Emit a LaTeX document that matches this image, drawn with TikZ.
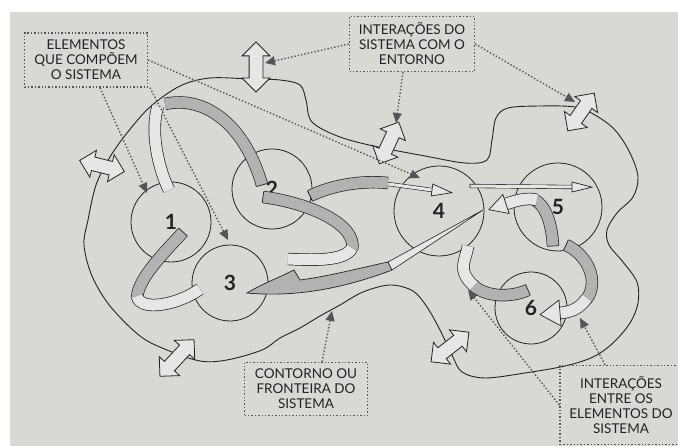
\documentclass[tikz,border=0pt]{standalone}
\usepackage{fontspec}
\setmainfont{Lato}
\usetikzlibrary{shapes.arrows,decorations.markings,arrows.meta}
\definecolor{paper}{RGB}{216,216,213}
\definecolor{ribdark}{RGB}{178,178,177}
\definecolor{riblight}{RGB}{230,230,228}
\definecolor{ink}{RGB}{35,35,35}
\definecolor{lead}{RGB}{85,85,85}

\begin{document}
\begin{tikzpicture}[x=1pt, y=-1pt,
    elem/.style={draw=ink, line width=0.8pt, circle, minimum size=#1, inner sep=0pt,
      font=\fontsize{21}{21}\selectfont\bfseries, text=ink},
    note/.style={draw=lead, dotted, line width=1.4pt, align=center, text=ink,
      font=\fontsize{13.5}{15}\selectfont, inner sep=0pt},
    leader/.style={lead, dotted, line width=1.4pt, -{Triangle[length=10pt, width=9pt]}},
    dblarrow/.style={double arrow, draw=ink, fill=riblight, line width=0.8pt,
      minimum height=#1, double arrow head extend=7pt, inner xsep=0pt, inner ysep=6.5pt},
    ribbon/.style={draw=ink, line width=0.7pt, double=#1, double distance=11pt},
    flat/.style={draw=ink, line width=0.6pt, double=riblight, double distance=3pt},
    rhead/.style args={#1/#2/#3}{postaction={decorate, decoration={markings,
      mark=at position 1 with {\filldraw[fill=#1, draw=ink, line width=0.7pt, solid]
        (0,-#3) -- (#2,0) -- (0,#3) -- cycle;}}}},
    ribend/.style={postaction={decorate, decoration={markings,
      mark=at position 0 with {\draw[ink, line width=0.7pt] (0,-#1) -- (0,#1);}}}}]

  \useasboundingbox (0,0) rectangle (678,446);
  \fill[white] (0,0) rectangle (678,446);
  \fill[paper] (10,12) rectangle (678,446);

  \draw[ink, line width=0.9pt] plot[smooth cycle, tension=0.55] coordinates {
    (88,220) (96,185) (110,157) (127,133) (150,107) (180,86) (210,78) (250,79)
    (280,80) (300,85) (306,100) (312,122) (340,137) (378,147) (425,156) (465,163)
    (487,160) (492,140) (496,118) (508,108) (540,106) (575,107) (595,115) (615,130)
    (630,153) (638,177) (633,197) (617,213) (607,230) (609,245) (623,262) (637,282)
    (638,303) (630,323) (613,343) (593,357) (565,366) (525,373) (485,378) (462,372)
    (452,355) (440,330) (427,307) (413,291) (390,285) (363,292) (340,305) (320,316)
    (300,328) (280,338) (262,350) (227,360) (200,361) (167,350) (140,336) (110,306)
    (92,276) (84,245)};

  \node[elem=80pt] (c1) at (171,222) {1};
  \node[elem=80pt] (c2) at (272,189) {2};
  \node[elem=76pt] (c3) at (230,283) {3};
  \node[elem=90pt] (c4) at (439,211) {4};
  \node[elem=88pt] (c5) at (558,207) {5};
  \node[elem=72pt] (c6) at (531,308) {6};

  \draw[ribbon=riblight, rhead=riblight/36pt/20pt] (158,106) .. controls (150,130) and (158,168) .. (169,190);
  \draw[ribbon=ribdark, ribend=5.5pt] (262,185) .. controls (245,125) and (205,95) .. (165,104);

  \draw[ribbon=ribdark, ribend=5.5pt] (183,232) .. controls (165,252) and (138,278) .. (137,298);
  \draw[ribbon=riblight, rhead=riblight/22pt/14pt] (137,296) .. controls (140,312) and (178,305) .. (200,289);

  \draw[ribbon=ribdark, ribend=5.5pt] (263,197) .. controls (310,203) and (358,225) .. (352,250);
  \draw[ribbon=riblight, rhead=riblight/36pt/13pt] (352,248) .. controls (345,262) and (310,260) .. (288,259);

  \draw[ribbon=ribdark, ribend=5.5pt] (310,196) .. controls (330,186) and (360,180) .. (388,183);
  \draw[flat, rhead=riblight/20pt/6pt] (388,184) -- (432,190);

  \filldraw[fill=ribdark, draw=ink, line width=0.7pt] (247,293) .. controls (262,284) and (280,277) .. (294,270)
    -- (300,280) .. controls (330,276) and (360,268) .. (388,262) -- (392,270)
    .. controls (350,286) and (300,298) .. cycle;
  \filldraw[fill=riblight, draw=ink, line width=0.6pt] (388,262) -- (483,210) -- (392,270) -- cycle;

  \draw[flat, ribend=2pt, rhead=riblight/20pt/5pt] (470,186) -- (572,187);

  \draw[ribbon=ribdark, ribend=5.5pt] (553,246) .. controls (552,225) and (546,206) .. (535,200);
  \draw[ribbon=riblight, rhead=riblight/18pt/10pt] (537,200) .. controls (527,197) and (515,201) .. (506,204);

  \draw[ribbon=ribdark, ribend=5.5pt] (566,245) .. controls (588,255) and (600,282) .. (586,300);
  \draw[ribbon=riblight, rhead=riblight/20pt/13pt] (587,298) .. controls (580,308) and (572,312) .. (560,313);

  \draw[ribbon=ribdark, ribend=5.5pt] (528,290) .. controls (510,298) and (485,297) .. (473,285);
  \draw[ribbon=riblight, rhead=riblight/22pt/12pt] (474,286) .. controls (456,270) and (466,260) .. (468,246);

  \node[dblarrow=46pt, rotate=-14] (da1) at (102,166) {};
  \node[dblarrow=50pt, rotate=90] (da2) at (256,67) {};
  \node[dblarrow=46pt, rotate=65] (da3) at (389,143) {};
  \node[dblarrow=46pt, rotate=55] (da4) at (581,112) {};
  \node[dblarrow=50pt, rotate=47] (da5) at (177,358) {};
  \node[dblarrow=48pt, rotate=38] (da6) at (450,347) {};

  \node[note, minimum width=123pt, minimum height=54pt] (elems) at (86,60)
    {ELEMENTOS\\QUE COMPÕEM\\O SISTEMA};
  \node[note, minimum width=125pt, minimum height=55pt] (intsys) at (412,44)
    {INTERAÇÕES DO\\SISTEMA COM O\\ENTORNO};
  \node[note, minimum width=123pt, minimum height=53pt] (contour) at (306,389)
    {CONTORNO OU\\FRONTEIRA DO\\SISTEMA};
  \node[note, minimum width=122pt, minimum height=79pt] (intelem) at (621,405)
    {INTERAÇÕES\\ENTRE OS\\ELEMENTOS DO\\SISTEMA};

  \coordinate (p1) at (147,193);
  \coordinate (p2) at (228,240);
  \coordinate (p3) at (420,178);
  \coordinate (p4) at (265,63);
  \coordinate (p5) at (396,123);
  \coordinate (p6) at (575,102);
  \coordinate (p7) at (332,311);
  \coordinate (p8) at (468,290);
  \coordinate (p9) at (580,318);

  \draw[leader] ([xshift=14pt]elems.south) -- (p1);
  \draw[leader] ([xshift=64pt]elems.south) -- (p2);
  \draw[leader] (elems.east) -- (p3);
  \draw[leader] (intsys.west) -- (p4);
  \draw[leader] ([xshift=-9pt]intsys.south) -- (p5);
  \draw[leader] (intsys.east) -- (p6);
  \draw[leader] ([xshift=16pt]contour.north) -- (p7);
  \draw[leader] (intelem.west) -- (p8);
  \draw[leader] ([xshift=-16pt]intelem.north) -- (p9);
\end{tikzpicture}
\end{document}
